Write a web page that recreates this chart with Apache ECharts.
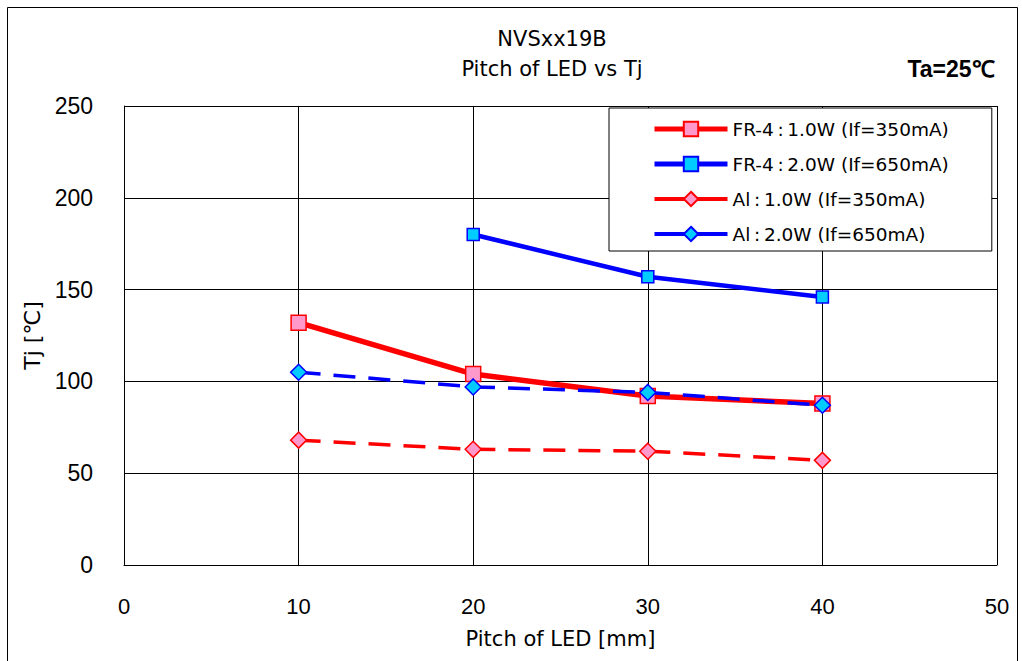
<!DOCTYPE html>
<html>
<head>
<meta charset="utf-8">
<script src="https://cdn.jsdelivr.net/npm/echarts@6/dist/echarts.min.js"></script>
<style>
  html, body { margin: 0; padding: 0; background: #fff; }
  #main { width: 1022px; height: 661px; }
</style>
</head>
<body>
<div id="main"></div>
<script>
const pitch = [10, 20, 30, 40];
const fr4_1w = [132, 104, 92, 88];
const fr4_2w = [null, 180, 157, 146];
const al_1w = [68, 63, 62, 57];
const al_2w = [105, 97, 94, 87];
const names = [
	'FR-4\u2009:\u20091.0W (If=350mA)',
	'FR-4\u2009:\u20092.0W (If=650mA)',
	'Al\u2009:\u20091.0W (If=350mA)',
	'Al\u2009:\u20092.0W (If=650mA)'
];

const FONT = '"DejaVu Sans", sans-serif';
const NUM = '"Liberation Sans", sans-serif';

function pairs(ys) {
	return pitch.map((x, i) => [x, ys[i]]).filter(p => p[1] != null);
}

const myChart = echarts.init(document.getElementById('main'), null, { renderer: 'svg' });

const option = {
	animation: false,
	textStyle: { fontFamily: FONT, color: '#000' },
	title: [
		{
			text: 'NVSxx19B\nPitch of LED vs Tj',
			left: 547, top: 19, textAlign: 'center',
			textStyle: { fontFamily: FONT, fontSize: 21, fontWeight: 'normal', lineHeight: 30, color: '#000' }
		},
		{
			text: 'Ta=25\u2103',
			left: 946, top: 52, textAlign: 'center',
			textStyle: { fontFamily: NUM, fontSize: 23, fontWeight: 'bold', color: '#000' }
		}
	],
	graphic: [{
		type: 'rect',
		shape: { x: 7.5, y: 7.5, width: 1010, height: 660 },
		style: { fill: 'none', stroke: '#000', lineWidth: 1 },
		silent: true
	}],
	legend: {
		left: 609, top: 108,
		orient: 'vertical',
		padding: [11, 43, 7, 43],
		itemGap: 15,
		itemWidth: 73, itemHeight: 18,
		borderColor: '#000', borderWidth: 1,
		backgroundColor: '#fff',
		textStyle: { fontFamily: FONT, fontSize: 18.5, lineHeight: 20, color: '#000' },
		data: [
			{ name: names[0], lineStyle: { width: 5, type: 'solid' } },
			{ name: names[1], lineStyle: { width: 5, type: 'solid' } },
			{ name: names[2], lineStyle: { width: 4, type: 'solid' } },
			{ name: names[3], lineStyle: { width: 4, type: 'solid' } }
		]
	},
	grid: { left: 124, right: 25, top: 106, bottom: 96 },
	xAxis: {
		type: 'value', min: 0, max: 50, interval: 10,
		name: 'Pitch of LED [mm]', nameLocation: 'middle', nameGap: 63,
		nameTextStyle: { fontFamily: FONT, fontSize: 21, color: '#000' },
		axisLine: { lineStyle: { color: '#000' } },
		axisTick: { show: false },
		axisLabel: { fontFamily: NUM, fontSize: 22, color: '#000', margin: 30 },
		splitLine: { show: true, lineStyle: { color: '#000', width: 1 } }
	},
	yAxis: {
		type: 'value', min: 0, max: 250, interval: 50,
		name: 'Tj [\u2103]', nameLocation: 'middle', nameGap: 78,
		nameTextStyle: { fontFamily: FONT, fontSize: 22, color: '#000' },
		axisLine: { show: true, lineStyle: { color: '#000' } },
		axisTick: { show: false },
		axisLabel: { fontFamily: NUM, fontSize: 23, color: '#000', margin: 31 },
		splitLine: { show: true, lineStyle: { color: '#000', width: 1 } }
	},
	series: [
		{
			name: names[0], type: 'line', data: pairs(fr4_1w),
			symbol: 'rect', symbolSize: 15,
			lineStyle: { color: '#ff0000', width: 5.5 },
			itemStyle: { color: '#ff99cc', borderColor: '#ff0000', borderWidth: 1.5 },
			z: 3
		},
		{
			name: names[1], type: 'line', data: pairs(fr4_2w),
			symbol: 'rect', symbolSize: 12,
			lineStyle: { color: '#0000ff', width: 4.5 },
			itemStyle: { color: '#00ccff', borderColor: '#0000ff', borderWidth: 1.5 },
			z: 3
		},
		{
			name: names[2], type: 'line', data: pairs(al_1w),
			symbol: 'diamond', symbolSize: 16,
			lineStyle: { color: '#ff0000', width: 3.5, type: [22, 13] },
			itemStyle: { color: '#ff99cc', borderColor: '#ff0000', borderWidth: 1.5 },
			z: 2
		},
		{
			name: names[3], type: 'line', data: pairs(al_2w),
			symbol: 'diamond', symbolSize: 16,
			lineStyle: { color: '#0000ff', width: 3.5, type: [22, 13] },
			itemStyle: { color: '#00ccff', borderColor: '#0000ff', borderWidth: 1.5 },
			z: 4
		}
	]
};

myChart.setOption(option);
</script>
</body>
</html>
